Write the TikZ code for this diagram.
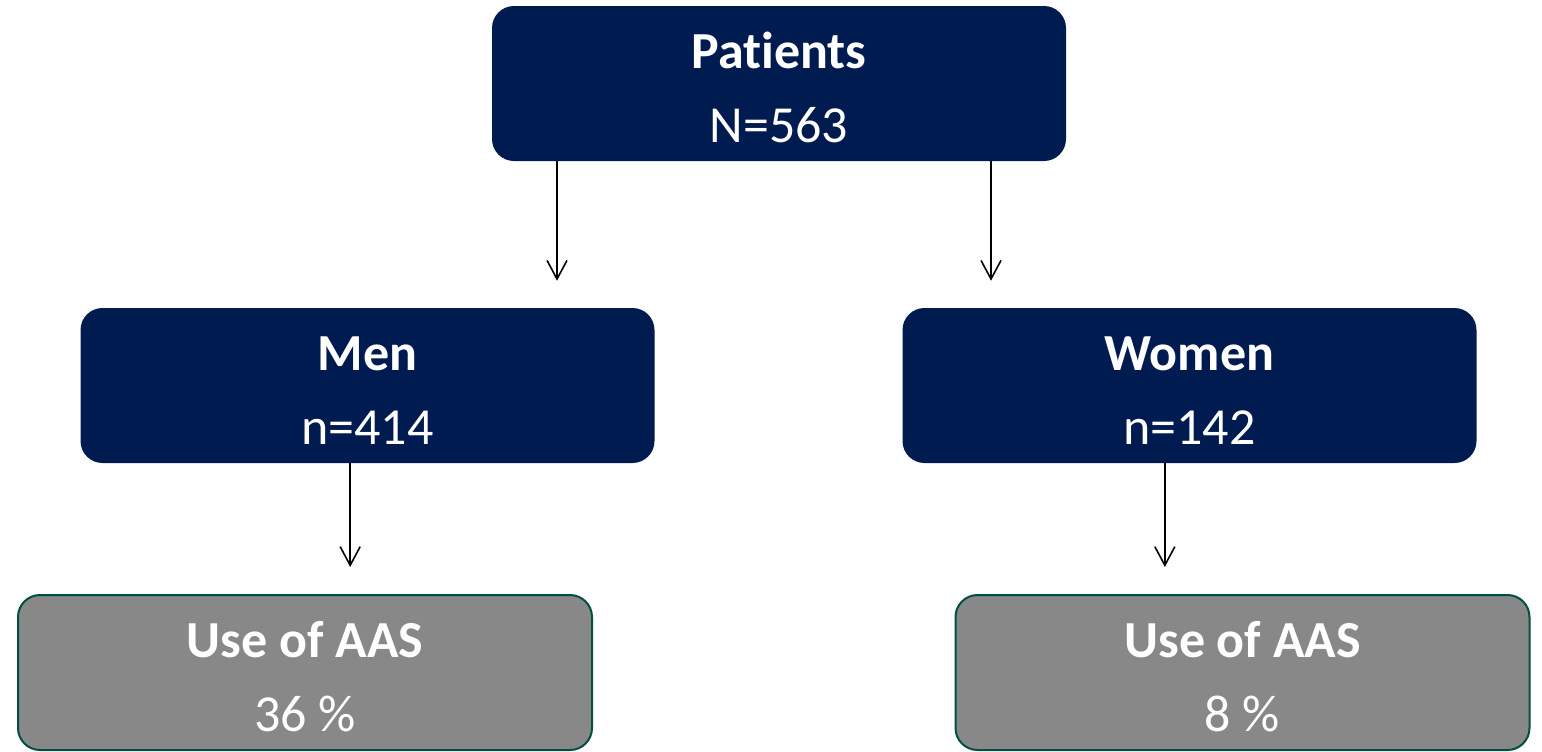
\documentclass[tikz,border=0pt]{standalone}
\usepackage{fontspec}
\setmainfont{Carlito}[Ligatures=NoCommon]
\usetikzlibrary{arrows.meta}
\definecolor{navy}{RGB}{0,27,80}
\definecolor{aasgrey}{RGB}{136,136,136}
\definecolor{aasedge}{RGB}{0,80,64}

\begin{document}
\begin{tikzpicture}[x=0.75pt,y=0.75pt,yscale=-1,xscale=1,
  box/.style={rounded corners=16.5pt, inner sep=0pt, minimum width=430.5pt,
    minimum height=116.25pt, text height=102pt, text depth=14.25pt,
    align=center, text=white, font=\fontsize{39}{55.5}\selectfont},
  navybox/.style={box, fill=navy},
  greybox/.style={box, fill=aasgrey, draw=aasedge, line width=1.5pt},
  arr/.style={-{Straight Barb[length=14pt,width=15pt]}, line width=1.2pt, shorten >=20.25pt}]
\useasboundingbox (0,0) rectangle (1542,751);
\node[navybox] (pat) at (779,83.5) {\textbf{Patients}\\N=563};
\node[navybox] (men) at (367.5,385.5) {\textbf{Men}\\n=414};
\node[navybox] (women) at (1189.5,385.5) {\textbf{Women}\\n=142};
\node[greybox] (aasm) at (305,672.5) {\textbf{Use of AAS}\\36 \%};
\node[greybox] (aasw) at (1242.5,672.5) {\textbf{Use of AAS}\\8 \%};
\draw[arr] ([xshift=-166.5pt]pat.south) -- ([xshift=-166.5pt]pat.south |- men.north);
\draw[arr] ([xshift=159pt]pat.south) -- ([xshift=159pt]pat.south |- women.north);
\draw[arr] ([xshift=-13pt]men.south) -- ([xshift=-13pt]men.south |- aasm.north);
\draw[arr] ([xshift=-18.5pt]women.south) -- ([xshift=-18.5pt]women.south |- aasw.north);
\end{tikzpicture}
\end{document}
